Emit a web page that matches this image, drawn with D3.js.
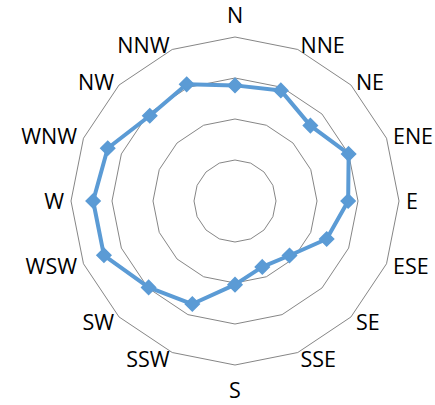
<!DOCTYPE html>
<html>
<head>
<meta charset="utf-8">
<script src="https://cdn.jsdelivr.net/npm/d3@7"></script>
<style>
  html, body { margin: 0; padding: 0; background: #fff; }
  svg { display: block; }
</style>
</head>
<body>
<script>
const directions = ["N","NNE","NE","ENE","E","ESE","SE","SSE","S","SSW","SW","WSW","W","WNW","NW","NNW"];
const values = [14.1, 14.6, 13.0, 15.0, 13.8, 12.1, 9.4, 8.7, 10.2, 13.6, 14.9, 17.3, 17.3, 16.8, 14.7, 15.4];
const ringTicks = [5, 10, 15, 20];

const W = 435, H = 405;
const cx = 235, cy = 201, R = 164;
const svg = d3.select("body").append("svg").attr("width", W).attr("height", H);

const r = d3.scaleLinear().domain([0, 20]).range([0, R]);
const angle = d3.scalePoint().domain(directions).range([0, 2 * Math.PI * (15 / 16)]);

const g = svg.append("g").attr("transform", `translate(${cx},${cy})`);

const pt = (a, rad) => [rad * Math.sin(a), -rad * Math.cos(a)];

// grid rings (polygons)
g.selectAll("polygon.ring").data(ringTicks).enter().append("polygon")
  .attr("class", "ring")
  .attr("points", t => directions.map(d => pt(angle(d), r(t)).join(",")).join(" "))
  .attr("fill", "none").attr("stroke", "#868686").attr("stroke-width", 1);

// series line
const line = d3.lineRadial().angle((d, i) => angle(directions[i])).radius(d => r(d)).curve(d3.curveLinearClosed);
g.append("path").datum(values).attr("d", line)
  .attr("fill", "none").attr("stroke", "#5B9BD5").attr("stroke-width", 4).attr("stroke-linejoin", "round");

// markers (diamonds)
const diamond = d3.symbol().type(d3.symbolDiamond2).size(125);
g.selectAll("path.mk").data(values).enter().append("path")
  .attr("class", "mk")
  .attr("d", diamond)
  .attr("transform", (d, i) => { const p = pt(angle(directions[i]), r(d)); return `translate(${p[0]},${p[1]})`; })
  .attr("fill", "#5B9BD5").attr("stroke", "#5B9BD5").attr("stroke-width", 1.5);

// labels
const LR = 171;
g.selectAll("text.lab").data(directions).enter().append("text")
  .attr("class", "lab")
  .text(d => d)
  .attr("font-family", "'Open Sans', sans-serif")
  .attr("font-size", 21.5)
  .attr("fill", "#000")
  .each(function(d) {
    const a = angle(d);
    const s = Math.sin(a), c = Math.cos(a);
    const p = pt(a, LR);
    const el = d3.select(this);
    if (Math.abs(s) < 1e-6) {
      el.attr("text-anchor", "middle").attr("x", 0)
        .attr("y", c > 0 ? -178 : 196.5);
    } else {
      el.attr("text-anchor", s > 0 ? "start" : "end")
        .attr("x", p[0])
        .attr("y", p[1] + 8 + (c > 0 ? 2 * c : 0));
    }
  });
</script>
</body>
</html>
